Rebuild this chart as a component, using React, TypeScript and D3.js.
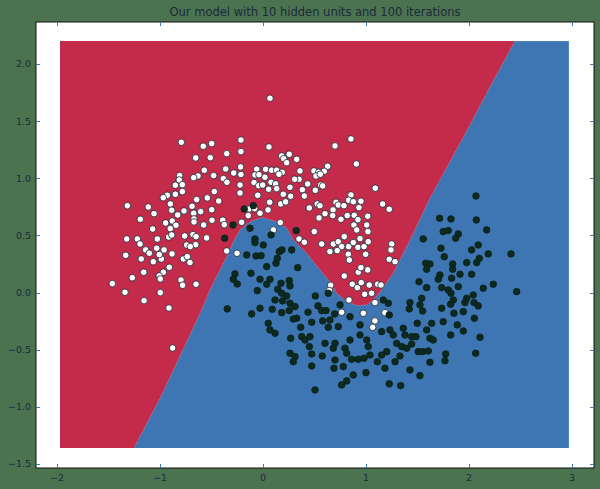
import React, { useRef, useEffect } from "react";
import * as d3 from "d3";

const title = "Our model with 10 hidden units and 100 iterations";
const xTicks = [-2, -1, 0, 1, 2, 3];
const yTicks = [-1.5, -1.0, -0.5, 0.0, 0.5, 1.0, 1.5, 2.0];

// plotted grid extent of the prediction surface
const gridX = [-1.97, 2.97];
const gridY = [-1.36, 2.2];

// decision boundary, top to bottom (red region lies to the left / above)
const boundary: [number, number][] = [
  [2.447, 2.2], [2.214, 1.816], [2.01, 1.466], [1.816, 1.145], [1.621, 0.825],
  [1.444, 0.489], [1.265, 0.169], [1.136, 0.005], [1.071, -0.065], [1.007, -0.108],
  [0.91, -0.113], [0.813, -0.08], [0.716, -0.006], [0.65, 0.095], [0.553, 0.198],
  [0.424, 0.344], [0.294, 0.46], [0.23, 0.563], [0.133, 0.62], [-0.01, 0.657],
  [-0.126, 0.62], [-0.223, 0.548], [-0.288, 0.445], [-0.352, 0.314], [-0.434, 0.169],
  [-0.515, 0.023], [-0.595, -0.152], [-0.983, -0.896], [-1.252, -1.36],
];

// class 0 (white markers)
const class0: [number, number][] = [
  [-0.793, 1.315], [-0.58, 1.28], [-0.498, 1.303], [-0.653, 1.178], [-0.512, 1.18],
  [-0.352, 1.215], [-0.214, 1.335], [-0.214, 1.233], [-0.57, 1.07], [-0.362, 1.081],
  [-0.809, 1.023], [-0.631, 1.02], [-0.673, 1.005], [-0.479, 1.023], [-0.385, 0.997],
  [-0.35, 0.965], [-0.284, 1.046], [-0.214, 1.033], [-0.218, 1.099], [-0.813, 0.985],
  [-0.783, 0.944], [-0.851, 0.939], [-0.783, 0.883], [-0.851, 0.86], [-0.473, 0.883],
  [-0.644, 0.813], [-0.541, 0.828], [-0.43, 0.801], [-0.223, 0.941], [-0.223, 0.871],
  [-0.929, 0.851], [-0.968, 0.83], [-1.317, 0.76], [-1.114, 0.749], [-1.058, 0.69],
  [-0.9, 0.775], [-0.886, 0.72], [-0.828, 0.679], [-0.767, 0.714], [-0.689, 0.755],
  [-0.673, 0.694], [-0.605, 0.708], [-0.498, 0.725], [-1.191, 0.641], [-0.945, 0.609],
  [-0.881, 0.626], [-0.845, 0.589], [-0.9, 0.559], [-0.67, 0.644], [-0.67, 0.618],
  [-0.576, 0.591], [-0.495, 0.633], [-0.391, 0.633], [-0.376, 0.594], [-1.071, 0.556],
  [-1.323, 0.469], [-1.22, 0.469], [-1.026, 0.469], [-0.916, 0.486], [-0.886, 0.504],
  [-0.76, 0.495], [-0.68, 0.507], [-0.65, 0.489], [-0.547, 0.478],
  [0.068, 1.7], [0.854, 1.344], [0.699, 1.283], [0.058, 1.274], [0.182, 1.195],
  [0.255, 1.21], [0.201, 1.171], [0.327, 1.166], [0.23, 1.136], [0.906, 1.125],
  [0.628, 1.105], [-0.061, 1.079], [0.026, 1.079], [0.084, 1.07], [0.133, 1.07],
  [0.187, 1.052], [0.359, 1.064], [0.495, 1.064], [0.541, 1.052], [0.595, 1.061],
  [-0.078, 1.029], [-0.039, 1.031], [0.019, 1.009], [0.155, 1.035], [0.35, 0.991],
  [0.308, 0.991], [0.515, 1.02], [0.556, 1.035], [-0.087, 0.962], [-0.042, 0.935],
  [-0.003, 0.941], [0.078, 0.965], [0.123, 0.95], [0.055, 0.904], [0.133, 0.909],
  [0.262, 0.921], [0.434, 0.95], [0.56, 0.941], [0.58, 0.933], [0.382, 0.9],
  [0.508, 0.895], [1.09, 0.913], [-0.051, 0.851], [0.197, 0.86], [0.269, 0.843],
  [0.401, 0.845], [0.854, 0.854], [0.065, 0.79], [0.172, 0.775], [0.22, 0.793],
  [0.527, 0.775], [0.553, 0.76], [0.709, 0.79], [0.731, 0.766], [0.832, 0.808],
  [0.877, 0.795], [0.951, 0.799], [0.786, 0.76], [0.932, 0.743], [0.45, 0.74],
  [0.68, 0.723], [0.049, 0.723], [-0.136, 0.731], [-0.081, 0.734], [-0.029, 0.694],
  [0.602, 0.69], [0.677, 0.673], [0.544, 0.653], [0.757, 0.641], [0.818, 0.673],
  [0.886, 0.676], [1.017, 0.668], [0.922, 0.638], [-0.143, 0.673], [-0.207, 0.615],
  [0.168, 0.612], [0.498, 0.533], [0.1, 0.548], [0.883, 0.591], [1.007, 0.591],
  [0.91, 0.548], [1.019, 0.533], [0.789, 0.489], [0.35, 0.469], [0.942, 0.472],
  [-0.741, 0.416], [-0.653, 0.419], [-0.706, 0.402], [-1.194, 0.425], [-1.139, 0.373],
  [-1.104, 0.344], [-1.032, 0.388], [-0.961, 0.373], [-1.333, 0.326], [-1.182, 0.294],
  [-1.065, 0.27], [-0.987, 0.294], [-1.007, 0.332], [-0.883, 0.338], [-0.774, 0.294],
  [-0.735, 0.314], [-0.709, 0.262], [-0.352, 0.364], [-0.252, 0.344], [-1.158, 0.178],
  [-1.269, 0.13], [-0.91, 0.221], [-0.968, 0.178], [-1.007, 0.145], [-0.997, 0.119],
  [-1.463, 0.078], [-0.796, 0.11], [-0.78, 0.064], [-0.65, 0.073], [-1.34, 0.003],
  [-0.997, -0.001], [-1.155, -0.071], [-0.913, -0.135], [-0.877, -0.485],
  [0.401, 0.44], [0.57, 0.425], [0.683, 0.425], [0.731, 0.445], [0.764, 0.402],
  [0.832, 0.402], [0.877, 0.437], [0.922, 0.396], [0.981, 0.402], [1.022, 0.445],
  [0.65, 0.358], [0.721, 0.367], [0.828, 0.335], [0.838, 0.285], [0.997, 0.335],
  [0.789, 0.145], [0.925, 0.178], [0.951, 0.218], [1.017, 0.198], [0.867, 0.073],
  [0.916, 0.043], [0.954, 0.087], [1.032, 0.066], [1.114, 0.073], [0.987, -0.015],
  [1.055, -0.006], [1.087, -0.088], [0.835, -0.065], [0.657, 0.064], [0.644, 0.017],
  [0.764, -0.172], [0.974, -0.181], [1.087, -0.248], [1.065, -0.304],
  [1.162, 0.775], [1.226, 0.729], [1.25, 0.425], [1.243, 0.373], [1.226, 0.291],
  [1.282, 0.27], [1.146, 0.066], [1.184, -0.176],
];

// class 1 (dark markers)
const class1: [number, number][] = [
  [-0.291, 0.591], [-0.372, 0.475], [-0.182, 0.731], [-0.094, 0.76], [-0.126, 0.563],
  [0.078, 0.504], [0.323, 0.542], [-0.078, 0.469], [-0.272, 0.163], [-0.288, 0.116],
  [-0.25, 0.075], [-0.347, -0.143],
  [-0.078, 0.437], [0.003, 0.416], [-0.158, 0.329], [-0.068, 0.32], [-0.019, 0.323],
  [0.158, 0.358], [0.184, 0.373], [0.279, 0.373], [0.139, 0.3], [0.126, 0.256],
  [0.036, 0.227], [0.337, 0.218], [-0.117, 0.169], [-0.029, 0.116], [0.068, 0.116],
  [0.036, 0.073], [0.175, 0.081], [0.255, 0.104], [0.262, 0.058], [-0.055, 0.017],
  [0.143, 0.029], [0.182, -0.006], [0.23, -0.03], [0.117, -0.065], [0.191, -0.073],
  [0.262, -0.094], [0.311, -0.123], [0.508, -0.03], [0.634, -0.006], [-0.029, -0.137],
  [0.09, -0.146], [-0.11, -0.187], [0.182, -0.176], [0.255, -0.158], [0.327, -0.225],
  [0.437, -0.172], [0.534, -0.117], [0.57, -0.158], [0.612, -0.158], [0.748, -0.108],
  [0.696, -0.187], [0.845, -0.211], [0.294, -0.231], [0.473, -0.26], [0.051, -0.269],
  [0.068, -0.327], [0.117, -0.356], [0.366, -0.304], [0.58, -0.248], [0.65, -0.24],
  [0.634, -0.304], [0.731, -0.298], [0.942, -0.283], [0.269, -0.4], [0.376, -0.386],
  [0.408, -0.415], [0.456, -0.386], [0.45, -0.473], [0.602, -0.444], [0.699, -0.444],
  [0.683, -0.487], [0.845, -0.415], [0.942, -0.371], [1.007, -0.415], [1.022, -0.473],
  [0.796, -0.487], [0.813, -0.531], [0.262, -0.531], [0.311, -0.561], [0.473, -0.537],
  [0.576, -0.555], [0.294, -0.605], [0.473, -0.642], [0.699, -0.59], [0.861, -0.584],
  [0.925, -0.584], [0.981, -0.575], [1.039, -0.546], [0.689, -0.662], [0.78, -0.648],
  [1.0, -0.701], [0.877, -0.721], [0.813, -0.773], [0.764, -0.808], [0.505, -0.852],
  [1.11, -0.605],
  [2.068, 0.845], [1.715, 0.65], [1.825, 0.644], [2.071, 0.635], [2.172, 0.548],
  [1.75, 0.533], [1.799, 0.542], [1.896, 0.513], [1.871, 0.475], [1.556, 0.469],
  [1.728, 0.388], [2.026, 0.373], [2.09, 0.416], [2.187, 0.338], [2.408, 0.338],
  [1.76, 0.314], [1.58, 0.256], [1.621, 0.25], [1.589, 0.204], [1.842, 0.25],
  [1.842, 0.204], [1.978, 0.262], [2.075, 0.262], [2.1, 0.3], [1.718, 0.154],
  [1.702, 0.116], [1.832, 0.125], [1.913, 0.16], [2.026, 0.16], [1.515, 0.095],
  [1.589, 0.043], [1.735, 0.043], [1.799, 0.023], [1.825, -0.006], [1.896, 0.052],
  [2.236, 0.073], [2.139, 0.038], [2.463, 0.008], [1.541, -0.05], [1.848, -0.065],
  [1.822, -0.102], [1.978, -0.05], [2.042, -0.021], [1.961, -0.088], [2.049, -0.088],
  [2.09, -0.117], [1.427, -0.088], [1.42, -0.143], [1.524, -0.108], [1.55, -0.161],
  [1.735, -0.137], [1.168, -0.065], [1.217, -0.094], [1.226, -0.196], [1.854, -0.181],
  [1.945, -0.167], [2.052, -0.225], [1.498, -0.269], [1.638, -0.269], [1.75, -0.255],
  [1.886, -0.283], [1.362, -0.312], [1.233, -0.327], [1.152, -0.342], [1.265, -0.371],
  [1.379, -0.371], [1.444, -0.386], [1.485, -0.386], [1.589, -0.327], [1.621, -0.4],
  [1.653, -0.415], [1.822, -0.371], [1.945, -0.336], [2.107, -0.391], [1.298, -0.444],
  [1.347, -0.473], [1.395, -0.487], [1.444, -0.45], [1.508, -0.517], [1.55, -0.517],
  [1.605, -0.511], [1.774, -0.537], [1.201, -0.517], [1.152, -0.546], [1.33, -0.555],
  [1.282, -0.605], [1.767, -0.596], [1.621, -0.61], [2.065, -0.531], [1.184, -0.662],
  [1.427, -0.677], [1.524, -0.727], [1.226, -0.799], [1.337, -0.814],
];

const W = 600;
const H = 489;
const frame = { left: 36, right: 594, top: 22, bottom: 468 };

export default function App() {
  const ref = useRef<SVGSVGElement>(null);

  useEffect(() => {
    if (!ref.current) return;
    const svg = d3.select(ref.current);
    svg.selectAll("*").remove();

    const x = d3.scaleLinear().domain([-2.204, 3.214]).range([frame.left, frame.right]);
    const y = d3.scaleLinear().domain([-1.535, 2.367]).range([frame.bottom, frame.top]);

    // figure background
    svg.append("rect").attr("width", W).attr("height", H).attr("fill", "#4b7350");
    svg.append("rect")
      .attr("x", frame.left).attr("y", frame.top)
      .attr("width", frame.right - frame.left).attr("height", frame.bottom - frame.top)
      .attr("fill", "#fff");

    // prediction surface: blue everywhere, red on one side of the boundary
    svg.append("rect")
      .attr("x", x(gridX[0])).attr("y", y(gridY[1]))
      .attr("width", x(gridX[1]) - x(gridX[0]))
      .attr("height", y(gridY[0]) - y(gridY[1]))
      .attr("fill", "#3e76b4");

    const line = d3.line<[number, number]>().x(d => x(d[0])).y(d => y(d[1]));
    const redPoly: [number, number][] = [
      [gridX[0], gridY[1]], ...boundary, [gridX[0], gridY[0]],
    ];
    svg.append("path").attr("d", line(redPoly)! + "Z").attr("fill", "#c42b4b");
    svg.append("path").attr("d", line(boundary)!)
      .attr("fill", "none").attr("stroke", "#fff")
      .attr("stroke-width", 0.5).attr("stroke-opacity", 0.55)
      .attr("stroke-dasharray", "1.5 1");

    // scatter
    svg.append("g").selectAll("circle")
      .data(class0).enter().append("circle")
      .attr("cx", d => x(d[0])).attr("cy", d => y(d[1])).attr("r", 3.3)
      .attr("fill", "#fff").attr("stroke", "#14232e").attr("stroke-width", 0.8);
    svg.append("g").selectAll("circle")
      .data(class1).enter().append("circle")
      .attr("cx", d => x(d[0])).attr("cy", d => y(d[1])).attr("r", 3.3)
      .attr("fill", "#0c2a1f").attr("stroke", "#0a1f17").attr("stroke-width", 0.8);

    // frame
    svg.append("rect")
      .attr("x", frame.left).attr("y", frame.top)
      .attr("width", frame.right - frame.left).attr("height", frame.bottom - frame.top)
      .attr("fill", "none").attr("stroke", "#111").attr("stroke-width", 1);

    const tickColor = "#3d78b8";
    const textColor = "#1b2a3c";
    const font = "DejaVu Sans, sans-serif";
    const len = 4;

    // x ticks (inward, bottom and top) + labels
    xTicks.forEach(t => {
      const px = Math.round(x(t)) + 0.5;
      svg.append("line").attr("x1", px).attr("x2", px)
        .attr("y1", frame.bottom).attr("y2", frame.bottom - len)
        .attr("stroke", tickColor);
      svg.append("line").attr("x1", px).attr("x2", px)
        .attr("y1", frame.top).attr("y2", frame.top + len)
        .attr("stroke", tickColor);
      svg.append("text")
        .attr("x", x(t)).attr("y", frame.bottom + 13)
        .attr("text-anchor", "middle")
        .style("font-family", font).style("font-size", "9.5px")
        .attr("fill", textColor)
        .text(d3.format("d")(t));
    });

    // y ticks (inward, left and right) + labels
    yTicks.forEach(t => {
      const py = Math.round(y(t)) + 0.5;
      svg.append("line").attr("y1", py).attr("y2", py)
        .attr("x1", frame.left).attr("x2", frame.left + len)
        .attr("stroke", tickColor);
      svg.append("line").attr("y1", py).attr("y2", py)
        .attr("x1", frame.right).attr("x2", frame.right - len)
        .attr("stroke", tickColor);
      svg.append("text")
        .attr("x", frame.left - 5).attr("y", y(t))
        .attr("text-anchor", "end").attr("dominant-baseline", "central")
        .style("font-family", font).style("font-size", "9.5px")
        .attr("fill", textColor)
        .text(d3.format(".1f")(t));
    });

    svg.append("text")
      .attr("x", (frame.left + frame.right) / 2).attr("y", 16)
      .attr("text-anchor", "middle")
      .style("font-family", font).style("font-size", "11.5px")
      .attr("fill", textColor)
      .text(title);
  }, []);

  return (
    <svg
      ref={ref}
      width={W}
      height={H}
      style={{ position: "absolute", left: 0, top: 0, display: "block" }}
    />
  );
}
